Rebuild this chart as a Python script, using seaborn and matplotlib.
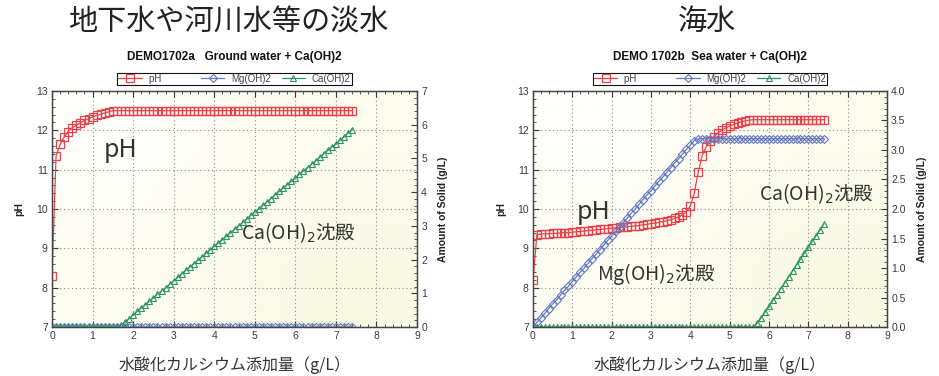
import numpy as np
import matplotlib
matplotlib.use("Agg")
import matplotlib.pyplot as plt
from matplotlib.ticker import MultipleLocator, FormatStrFormatter
import seaborn as sns

# Ca(OH)2 dose steps (g/L)
dose = [0.0, 0.1, 0.2, 0.3, 0.4, 0.5, 0.6, 0.7, 0.8, 0.9,
        1.0, 1.1, 1.2, 1.3, 1.4, 1.5, 1.6, 1.7, 1.8, 1.9,
        2.0, 2.1, 2.2, 2.3, 2.4, 2.5, 2.6, 2.7, 2.8, 2.9,
        3.0, 3.1, 3.2, 3.3, 3.4, 3.5, 3.6, 3.7, 3.8, 3.9,
        4.0, 4.1, 4.2, 4.3, 4.4, 4.5, 4.6, 4.7, 4.8, 4.9,
        5.0, 5.1, 5.2, 5.3, 5.4, 5.5, 5.6, 5.7, 5.8, 5.9,
        6.0, 6.1, 6.2, 6.3, 6.4, 6.5, 6.6, 6.7, 6.8, 6.9,
        7.0, 7.1, 7.2, 7.3, 7.4]

# DEMO1702a ground water
gw_ph = [8.30, 11.35, 11.64, 11.83, 11.97, 12.06, 12.13, 12.19, 12.25, 12.30,
         12.34, 12.38, 12.41, 12.44, 12.47, 12.50] + [12.50] * 59
gw_mg = [0.0] * 75
gw_ca = [0.0] * 17 + [
    0.05, 0.15, 0.25, 0.36, 0.46, 0.56, 0.66, 0.76, 0.86, 0.97,
    1.07, 1.17, 1.27, 1.37, 1.47, 1.58, 1.68, 1.78, 1.88, 1.98,
    2.08, 2.19, 2.29, 2.39, 2.49, 2.59, 2.69, 2.80, 2.90, 3.00,
    3.10, 3.20, 3.31, 3.41, 3.51, 3.61, 3.71, 3.81, 3.92, 4.02,
    4.12, 4.22, 4.32, 4.42, 4.53, 4.63, 4.73, 4.83, 4.93, 5.03,
    5.14, 5.24, 5.34, 5.44, 5.54, 5.64, 5.75, 5.85]

# DEMO 1702b sea water
sw_ph = [8.20, 9.35, 9.36, 9.37, 9.37, 9.38, 9.38, 9.39, 9.40, 9.40,
         9.41, 9.42, 9.43, 9.44, 9.45, 9.46, 9.47, 9.48, 9.49, 9.50,
         9.51, 9.52, 9.53, 9.54, 9.55, 9.56, 9.57, 9.58, 9.60, 9.61,
         9.63, 9.64, 9.66, 9.68, 9.70, 9.73, 9.76, 9.80, 9.85, 9.93,
         10.08, 10.40, 10.93, 11.35, 11.58, 11.72, 11.84, 11.93, 12.00, 12.06,
         12.11, 12.15, 12.19, 12.22, 12.24, 12.26] + [12.27] * 19
sw_mg = [0.00, 0.08, 0.15, 0.23, 0.31, 0.39, 0.46, 0.54, 0.62, 0.69,
         0.77, 0.85, 0.93, 1.00, 1.08, 1.16, 1.23, 1.31, 1.39, 1.47,
         1.54, 1.62, 1.70, 1.77, 1.85, 1.93, 2.00, 2.08, 2.16, 2.24,
         2.31, 2.39, 2.47, 2.54, 2.62, 2.70, 2.78, 2.85, 2.93, 3.01,
         3.08, 3.16] + [3.19] * 33
sw_ca = [0.0] * 57 + [
    0.06, 0.16, 0.25, 0.35, 0.45, 0.55, 0.65, 0.75, 0.85, 0.95,
    1.05, 1.15, 1.25, 1.35, 1.45, 1.55, 1.65, 1.75]

series_names = ["pH", "Mg(OH)2", "Ca(OH)2"]

sns.set_style("ticks")
plt.rcParams["font.family"] = ["Liberation Sans", "Noto Sans CJK JP", "DejaVu Sans"]
plt.rcParams["mathtext.fontset"] = "dejavusans"

RED, BLUE, GREEN = "#e8434c", "#6578c4", "#2f9560"
JP = ["Noto Sans CJK JP", "DejaVu Sans"]


def draw_panel(ax, ph, mg, ca, solid_max, solid_major, solid_minor, solid_fmt,
               subtitle, right_label_x, notes):
    # pale cream gradient behind the plot
    bg = np.array([[[255, 255, 251], [252, 252, 238]],
                   [[253, 253, 243], [249, 249, 228]]]) / 255.0
    ax.imshow(bg, extent=(0, 1, 0, 1), transform=ax.transAxes, aspect="auto",
              interpolation="bilinear", zorder=0)

    sns.lineplot(x=dose, y=ph, ax=ax, color=RED, lw=0.9, marker="s", ms=5.2,
                 mfc="none", mec=RED, mew=0.9, label=series_names[0], legend=False,
                 zorder=3)
    ax.set_xlim(0, 9)
    ax.set_ylim(7, 13)
    ax.xaxis.set_major_locator(MultipleLocator(1))
    ax.xaxis.set_minor_locator(MultipleLocator(0.2))
    ax.yaxis.set_major_locator(MultipleLocator(1))
    ax.yaxis.set_minor_locator(MultipleLocator(0.2))
    ax.grid(True, which="major", color="#8a8a8a", lw=0.8, ls=(0, (1, 2.5)))
    ax.tick_params(which="both", direction="in", top=True, right=False,
                   labelsize=7.5, colors="#3a3a3a", pad=3)
    ax.tick_params(which="major", length=4, width=0.8)
    ax.tick_params(which="minor", length=2, width=0.6)
    for s in ax.spines.values():
        s.set_color("#444444")
        s.set_linewidth(0.9)
    ax.set_ylabel("pH", fontsize=7.5, fontweight="bold", color="#222222")
    ax.yaxis.set_label_coords(-0.076, 0.5)
    ax.set_xlabel("水酸化カルシウム添加量（g/L）", fontsize=11.5, color="#333333",
                  family=JP)
    ax.xaxis.set_label_coords(0.5, -0.125)

    ax2 = ax.twinx()
    sns.lineplot(x=dose, y=mg, ax=ax2, color=BLUE, lw=0.9, marker="D", ms=3.6,
                 mfc="none", mec=BLUE, mew=0.8, label=series_names[1], legend=False)
    sns.lineplot(x=dose, y=ca, ax=ax2, color=GREEN, lw=0.9, marker="^", ms=4.6,
                 mfc="none", mec=GREEN, mew=0.8, label=series_names[2], legend=False)
    ax2.set_ylim(0, solid_max)
    ax2.yaxis.set_major_locator(MultipleLocator(solid_major))
    ax2.yaxis.set_minor_locator(MultipleLocator(solid_minor))
    ax2.yaxis.set_major_formatter(FormatStrFormatter(solid_fmt))
    ax2.tick_params(which="both", direction="in", labelsize=7.5, colors="#3a3a3a", pad=3)
    ax2.tick_params(which="major", length=4, width=0.8)
    ax2.tick_params(which="minor", length=2, width=0.6)
    for s in ax2.spines.values():
        s.set_color("#444444")
        s.set_linewidth(0.9)
    ax2.set_ylabel("Amount of Solid (g/L)", fontsize=7.5, fontweight="bold",
                   color="#222222")
    ax2.yaxis.set_label_coords(right_label_x, 0.5)

    ax.text(0.5, 1.144, subtitle, transform=ax.transAxes, ha="center", va="center",
            fontsize=8.5, fontweight="bold", color="#111111")

    handles = ax.get_lines()[:1] + ax2.get_lines()[:2]
    leg = ax2.legend(handles, ["pH" + "\u2003" * 3, "Mg(OH)2", "Ca(OH)2"],
                     loc="center", bbox_to_anchor=(0.5, 1.052), ncol=3,
                     fontsize=7, frameon=True, fancybox=False, framealpha=1,
                     edgecolor="#111111", borderpad=0.12, handlelength=2.4,
                     handletextpad=0.7, columnspacing=1.1, borderaxespad=0)
    leg.get_frame().set_linewidth(0.8)
    for t in leg.get_texts():
        t.set_color("#444444")

    for (tx, ty, txt, fs) in notes:
        ax.text(tx, ty, txt, ha="center", va="center", fontsize=fs,
                color="#333333", family=JP, zorder=5)


fig = plt.figure(figsize=(9.39, 3.76), dpi=100)
ax_l = fig.add_axes([0.0554, 0.1303, 0.3887, 0.6277])
ax_r = fig.add_axes([0.5676, 0.1303, 0.3770, 0.6277])

draw_panel(ax_l, gw_ph, gw_mg, gw_ca, 7, 1, 0.2, "%d",
           "DEMO1702a   Ground water + Ca(OH)2", 1.058,
           [(1.68, 11.5, "pH", 18), (6.07, 9.39, r"Ca(OH)$_2$沈殿", 14)])
draw_panel(ax_r, sw_ph, sw_mg, sw_ca, 4.0, 0.5, 0.1, "%.1f",
           "DEMO 1702b  Sea water + Ca(OH)2", 1.085,
           [(1.53, 9.92, "pH", 18), (3.13, 8.35, r"Mg(OH)$_2$沈殿", 14),
            (7.2, 10.38, r"Ca(OH)$_2$沈殿", 14)])

fig.text(228 / 939, 1 - 22 / 376, "地下水や河川水等の淡水", ha="center", va="center",
         fontsize=21, color="#222222", family=JP)
fig.text(707 / 939, 1 - 22 / 376, "海水", ha="center", va="center",
         fontsize=21, color="#222222", family=JP)

fig.savefig("out.png", dpi=100)
